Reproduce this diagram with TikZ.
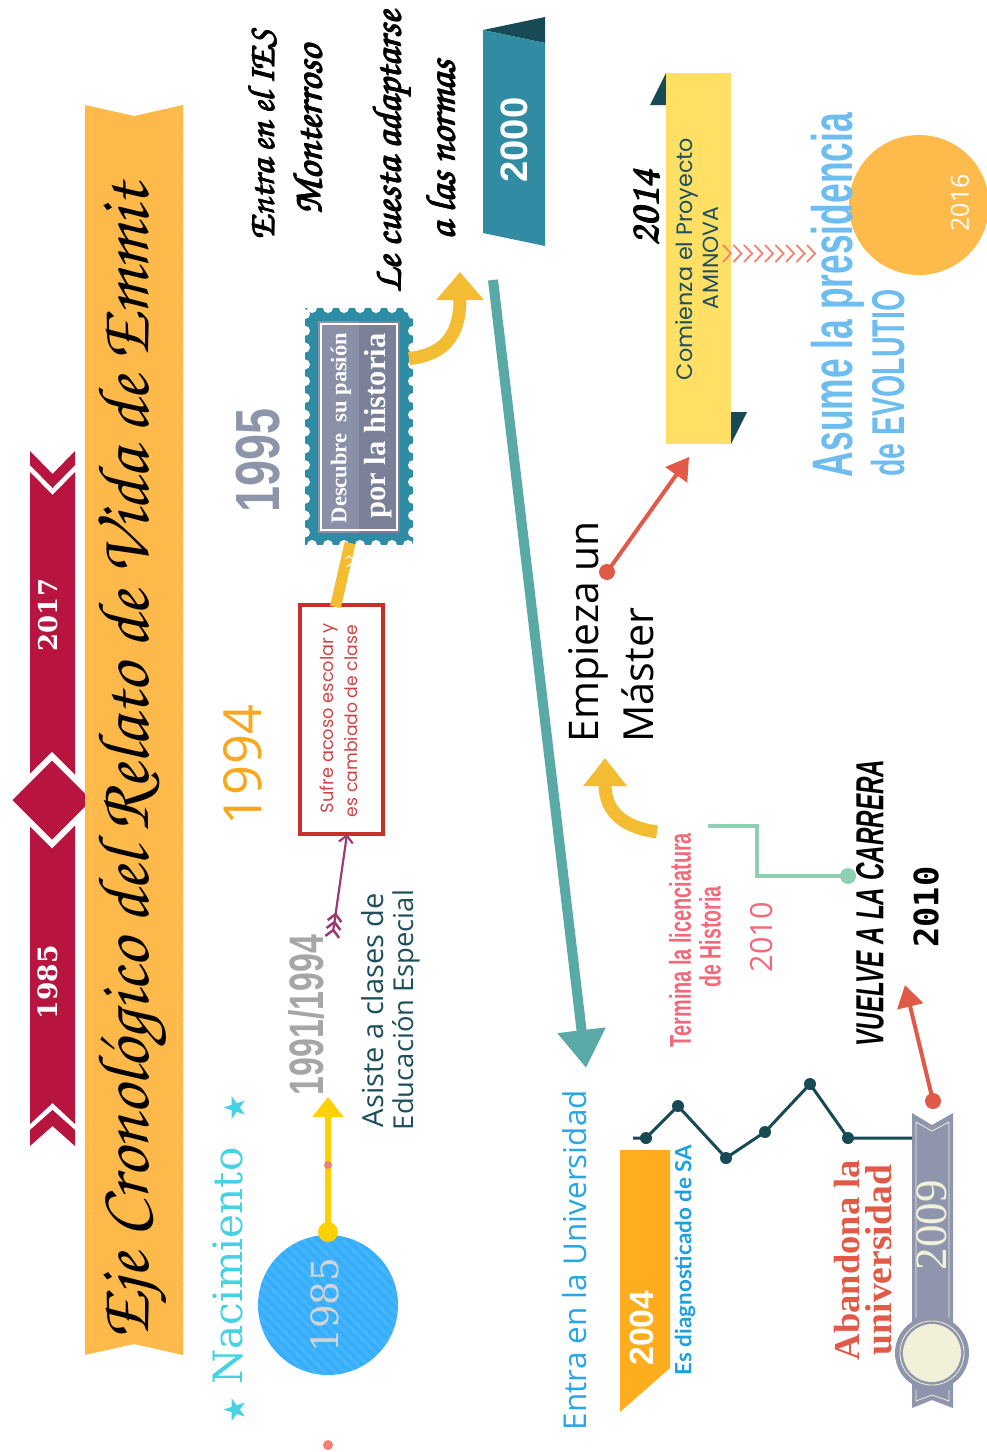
\documentclass[tikz,border=0pt]{standalone}
\usepackage{fontspec}
\usepackage[T1,TU]{fontenc}
\usetikzlibrary{arrows.meta,calc}
\newfontfamily\fsans{Liberation Sans}
\newfontfamily\fserif{Liberation Serif}
\newfontfamily\fslab{DejaVu Serif}
\newfontfamily\fopen{Open Sans}
\newfontfamily\fpop{Poppins}
\newfontfamily\flato{Lato}
\newfontfamily\fmono{DejaVu Sans Mono}
\newfontfamily\fdeja{DejaVu Sans}
\newcommand\fscript{\fontencoding{T1}\fontfamily{pzc}\fontseries{mb}\fontshape{it}\selectfont}
\newcommand\fitw[2]{\resizebox{#1}{!}{\fontsize{20}{24}\selectfont #2}}
\newcommand\condw[3]{\resizebox{#2}{!}{\scalebox{#1}[1]{\fontsize{20}{24}\selectfont #3}}}
% overprinted text for a heavier brush look
\newcommand\heavy[1]{\rlap{#1}\raisebox{0.45pt}{\rlap{#1}}\hspace{0.45pt}\rlap{#1}\raisebox{0.45pt}{#1}}
\definecolor{ribred}{HTML}{B7153F}
\definecolor{titleor}{HTML}{FDB94A}
\definecolor{stitch}{HTML}{FFD88C}
\definecolor{cyanT}{HTML}{46D2E2}
\definecolor{blueC}{HTML}{36AEFB}
\definecolor{yellowA}{HTML}{FFD000}
\definecolor{salmon}{HTML}{F28072}
\definecolor{grayT}{HTML}{A6A6A6}
\definecolor{darkteal}{HTML}{1E4F5C}
\definecolor{purpleA}{HTML}{9B3A74}
\definecolor{boxred}{HTML}{C62F2C}
\definecolor{redtxt}{HTML}{CF4444}
\definecolor{orangeT}{HTML}{F8A81F}
\definecolor{gold}{HTML}{F3BC33}
\definecolor{stampteal}{HTML}{2E8DA4}
\definecolor{stampA}{HTML}{8A90A8}
\definecolor{stampB}{HTML}{7A8097}
\definecolor{gray95}{HTML}{8E95AB}
\definecolor{teal2000}{HTML}{318CA3}
\definecolor{darkzig}{HTML}{174A55}
\definecolor{arrowteal}{HTML}{59A9A6}
\definecolor{uniblue}{HTML}{2AA5E5}
\definecolor{orange04}{HTML}{FDAD1D}
\definecolor{blueSA}{HTML}{1BA0E2}
\definecolor{medal}{HTML}{8E95AD}
\definecolor{cream}{HTML}{F1F0D8}
\definecolor{abred}{HTML}{E05A47}
\definecolor{greenL}{HTML}{8FD0B2}
\definecolor{pinkT}{HTML}{F4697A}
\definecolor{yellowB}{HTML}{FFE065}
\definecolor{chev}{HTML}{F2836E}
\definecolor{orange16}{HTML}{FEBB4C}
\definecolor{lblue}{HTML}{6DBDF0}
\begin{document}
\begin{tikzpicture}[x=1pt,y=-1pt,
  every node/.style={inner sep=0pt,outer sep=0pt},
  vtxt/.style={rotate=90,anchor=center},
  dot/.style={circle,inner sep=0pt,fill=#1}]
\useasboundingbox (0,0) rectangle (987,1452);

% ---------- red year ribbon ----------
\fill[ribred] (30,451)--(52.5,474)--(75,451)--(75,465)--(52.5,488)--(30,465)--cycle;
\fill[ribred] (30,472)--(52.5,495)--(75,472)--(75,1124)--(52.5,1103)--(30,1124)--cycle;
\fill[ribred] (30,1130)--(52.5,1110)--(75,1130)--(75,1146)--(52.5,1126)--(30,1146)--cycle;
\filldraw[fill=ribred,draw=white,line width=6pt] (8,800)--(52,756)--(96,800)--(52,844)--cycle;
\node[vtxt,text=white] (y2017) at (48,615) {\fitw{72pt}{\fslab\bfseries 2017}};
\node[vtxt,text=white] (y1985) at (48,982) {\fitw{74pt}{\fslab\bfseries 1985}};

% ---------- title ribbon ----------
\fill[titleor] (85,105)--(134,116)--(183,105)--(183,1355)--(134,1344)--(85,1355)--cycle;
\draw[stitch,dashed,line width=0.8pt] (91,112)--(91,1348) (177,112)--(177,1348);
\node[vtxt] (title) at (134,762) {\fitw{1155pt}{\fscript Eje Cronológico del Relato de Vida de Emmit}};

% ---------- birth ----------
\node[vtxt,text=cyanT] (nac) at (228,1266) {\fitw{237pt}{\fslab Nacimiento}};
\node[vtxt,text=cyanT] (st1) at (235,1108) {\fdeja\fontsize{30}{30}\selectfont ★};
\node[vtxt,text=cyanT] (st2) at (235,1410) {\fdeja\fontsize{30}{30}\selectfont ★};
\node[circle,fill=blueC,minimum size=140pt] (birth) at (328,1305) {};
\begin{scope}
  \clip (328,1305) circle (70pt);
  \foreach \i in {-160,-150,...,160}
    \draw[white,opacity=0.08,line width=3pt] (328+\i-90,1305-90)--(328+\i+90,1305+90);
\end{scope}
\node[vtxt,text=black!17] (b1985) at (325,1305) {\fitw{95pt}{\fslab 1985}};
\node[dot=yellowA,minimum size=20pt] (ydot) at (328,1232) {};
\coordinate (ytip) at (328,1097);
\draw[yellowA,line width=6pt,-{Triangle[length=20pt,width=30pt]}] (ydot.center)--(ytip);
\node[dot=salmon,minimum size=8pt] (sd1) at (328,1165) {};
\node[dot=salmon,minimum size=10pt] (sd2) at (328,1445) {};

% ---------- 1991/1994 ----------
\node[vtxt,text=grayT] (y9194) at (306,1015) {\condw{0.7}{160pt}{\fsans\bfseries 1991/1994}};
\node[vtxt,text=darkteal] (asis1) at (373,1010) {\fitw{234pt}{\fopen Asiste a clases de}};
\node[vtxt,text=darkteal] (asis2) at (406,1010) {\fitw{240pt}{\fopen Educación Especial}};

% ---------- 1994 ----------
\node[draw=boxred,line width=4pt,minimum width=83pt,minimum height=229pt] (acoso) at (341.5,719.5) {};
\node[vtxt,text=redtxt] (ac1) at (329,718) {\fitw{190pt}{\fpop Sufre acoso escolar y}};
\node[vtxt,text=redtxt] (ac2) at (351,721) {\fitw{192pt}{\fpop es cambiado de clase}};
\node[vtxt,text=orangeT] (y1994) at (243,765) {\fitw{120pt}{\fopen 1994}};
\coordinate (ptail) at (333,932);
\draw[purpleA,line width=2.2pt,-{Straight Barb[length=7pt,width=14pt]}] (ptail)--($(acoso.south)+(5.5,0)$);
\foreach \a in {2,10,18}{
  \draw[purpleA,line width=2.5pt] ($(ptail)+(0.143*\a+5.9,-0.99*\a+7.9)$)--($(ptail)+(0.143*\a,-0.99*\a)$)--($(ptail)+(0.143*\a-7.9,-0.99*\a+5.9)$);
}

% ---------- 1995 ----------
\fill[stampteal] (305,308) rectangle (413,545);
\foreach \t in {0,...,13}{
  \fill[white] (305,314+\t*16.8) circle (5pt);
  \fill[white] (413,314+\t*16.8) circle (5pt);
}
\foreach \t in {0,...,6}{
  \fill[white] (312+\t*16,308) circle (5pt);
  \fill[white] (312+\t*16,545) circle (5pt);
}
\fill[stampA] (318,321) rectangle (359,533);
\fill[stampB] (359,321) rectangle (400,533);
\draw[white,line width=1.5pt] (321,324) rectangle (397,530);
\node[minimum width=108pt,minimum height=237pt] (stamp) at (359,426.5) {};
\node[vtxt,text=white] (desc1) at (341,428) {\fitw{190pt}{\fserif\bfseries Descubre\ \ su pasión}};
\node[vtxt,text=white] (desc2) at (378,426) {\fitw{185pt}{\fserif\bfseries por la historia}};
\node[vtxt,text=gray95] (y1995) at (258,460) {\condw{0.75}{104pt}{\fsans\bfseries 1995}};
\draw[gold,line width=11pt] ($(acoso.north)+(-6,2)$)--($(stamp.south)+(-9,-2)$);
\foreach \a in {0,8,16,24}{
  \draw[white,line width=1pt] ($(349,556)+(0.21*\a-4,0.98*\a+3)$)--($(349,556)+(0.21*\a,0.98*\a)$)--($(349,556)+(0.21*\a+4.5,0.98*\a+4)$);
}
\coordinate (gtip1) at (460,272);
\draw[gold,line width=13pt,-{Triangle[length=28pt,width=46pt]}] ($(stamp.east)+(-4,-68)$) .. controls (442,355) and (460,338) .. (gtip1);

% ---------- 2000 ----------
\node[vtxt] (ies1) at (262,135) {\fitw{210pt}{\fscript\heavy{Entra en el IES}}};
\node[vtxt] (ies2) at (308,130) {\fitw{170pt}{\fscript\heavy{Monterroso}}};
\node[vtxt] (lec1) at (393,152) {\fitw{283pt}{\fscript\heavy{Le cuesta adaptarse}}};
\node[vtxt] (lec2) at (441,150) {\fitw{180pt}{\fscript\heavy{a las normas}}};
\fill[darkzig] (483,30)--(545,17)--(545,43)--cycle;
\fill[teal2000] (483,30)--(545,43)--(545,246)--(483,233)--cycle;
\node[vtxt,text=white] (y2000) at (514,140) {\fitw{85pt}{\fsans\bfseries 2000}};
\coordinate (tstart) at (493,280);
\coordinate (ttip) at (586,1068);
\draw[arrowteal,line width=10pt,-{Triangle[length=38pt,width=46pt]}] (tstart)--(ttip);
\node[vtxt,text=uniblue] (uni) at (575,1260) {\fitw{340pt}{\fopen Entra en la Universidad}};

% ---------- 2004 ----------
\fill[orange04] (620,1150)--(670,1150)--(670,1368)--(620,1412)--cycle;
\node[vtxt,text=white] (y2004) at (642,1328) {\fitw{75pt}{\fsans\bfseries 2004}};
\node[vtxt,text=blueSA] (diag) at (685,1260) {\fitw{230pt}{\flato\bfseries Es diagnosticado de SA}};

% ---------- 2009 ----------
\fill[medal] (912,1113)--(932,1125)--(953,1113)--(953,1408)--(932,1400)--(912,1408)--cycle;
\draw[cream,line width=0.8pt] (916,1122)--(932,1131)--(949,1122) (916,1122)--(916,1318) (949,1122)--(949,1318)
  (916,1390)--(916,1401)--(932,1395)--(949,1401)--(949,1390);
\node[circle,fill=medal,minimum size=74pt] (medalC) at (932,1353) {};
\draw[cream,line width=0.8pt] (932,1353) circle (32pt);
\node[circle,fill=cream,minimum size=58pt] (medalI) at (932,1353) {};
\node[minimum width=41pt,minimum height=295pt] (ribbon09) at (932.5,1260.5) {};
\node[vtxt,text=cream] (y2009) at (932,1225) {\fitw{90pt}{\fserif 2009}};
\node[vtxt,text=abred] (ab1) at (847,1260) {\fitw{200pt}{\fserif\bfseries Abandona la}};
\node[vtxt,text=abred] (ab2) at (879,1260) {\fitw{190pt}{\fserif\bfseries universidad}};
\coordinate (zs) at (633,1138);
\node[dot=darkzig,minimum size=12pt] (z1) at (646,1138) {};
\node[dot=darkzig,minimum size=12pt] (z2) at (678,1106) {};
\node[dot=darkzig,minimum size=12pt] (z3) at (726,1158) {};
\node[dot=darkzig,minimum size=12pt] (z4) at (765,1132) {};
\node[dot=darkzig,minimum size=12pt] (z5) at (810,1084) {};
\node[dot=darkzig,minimum size=12pt] (z6) at (848,1138) {};
\draw[darkzig,line width=3pt] (zs)--(z1.center)--(z2.center)--(z3.center)--(z4.center)--(z5.center)--(z6.center)--(ribbon09.west|-z6);

% ---------- 2010 ----------
\node[dot=abred,minimum size=16pt] (rdot1) at (933,1101) {};
\coordinate (rtip1) at (905,985);
\draw[abred,line width=4pt,-{Triangle[length=22pt,width=26pt]}] (rdot1.center)--(rtip1);
\node[vtxt] (vuelve) at (870,903) {\condw{0.62}{287pt}{\fsans\bfseries\itshape VUELVE A LA CARRERA}};
\node[vtxt] (y2010b) at (926,907) {\fitw{81pt}{\fmono\bfseries 2010}};
\coordinate (gstart) at (708,826);
\node[dot=greenL,minimum size=16pt] (gdot) at (848,876) {};
\draw[greenL,line width=4pt] (gstart)--(757,826)--(757,876)--(gdot.center);
\node[vtxt,text=pinkT] (ter1) at (680,940) {\condw{0.66}{214pt}{\fsans\bfseries Termina la licenciatura}};
\node[vtxt,text=pinkT] (ter2) at (710,937) {\condw{0.66}{101pt}{\fsans\bfseries de Historia}};
\node[vtxt,text=pinkT] (y2010a) at (762,937) {\fitw{70pt}{\fopen 2010}};
\coordinate (gtip2) at (605,758);
\draw[gold,line width=13pt,-{Triangle[length=28pt,width=42pt]}] (657,832) .. controls (628,828) and (605,815) .. (gtip2);
\node[vtxt] (emp1) at (588,632) {\fitw{221pt}{\fopen Empieza un}};
\node[vtxt] (emp2) at (638,675) {\fitw{135pt}{\fopen Máster}};

% ---------- 2014 ----------
\node[dot=abred,minimum size=16pt] (rdot2) at (607,572) {};
\coordinate (rtip2) at (689,457);
\draw[abred,line width=4pt,-{Triangle[length=22pt,width=26pt]}] (rdot2.center)--(rtip2);
\fill[darkzig] (650,105)--(666,73)--(666,105)--cycle;
\fill[darkzig] (731,412)--(747,412)--(731,444)--cycle;
\node[fill=yellowB,minimum width=65pt,minimum height=371pt] (amin) at (698.5,258.5) {};
\node[vtxt,text=darkteal] (com1) at (687,259) {\fitw{242pt}{\fpop Comienza el Proyecto}};
\node[vtxt,text=darkteal] (com2) at (711,258) {\fitw{103pt}{\fpop A\kern1.5pt MINOVA}};
\node[vtxt] (y2014) at (647,208) {\fitw{77pt}{\fscript\heavy{2014}}};

% ---------- 2016 ----------
\node[circle,fill=orange16,minimum size=140pt] (evo) at (919,205) {};
\foreach \i in {0,...,8}
  \draw[chev,line width=1.8pt] (723+\i*10.5,245)--(731+\i*10.5,253.5)--(723+\i*10.5,262);
\node[vtxt,text=white] (y2016) at (960,203) {\fitw{57pt}{\fopen 2016}};
\node[vtxt,text=lblue] (asu1) at (838,295) {\condw{0.62}{364pt}{\fsans\bfseries Asume la presidencia}};
\node[vtxt,text=lblue] (asu2) at (888,383) {\condw{0.62}{187pt}{\fsans\bfseries de EVOLUTIO}};
\end{tikzpicture}
\end{document}
